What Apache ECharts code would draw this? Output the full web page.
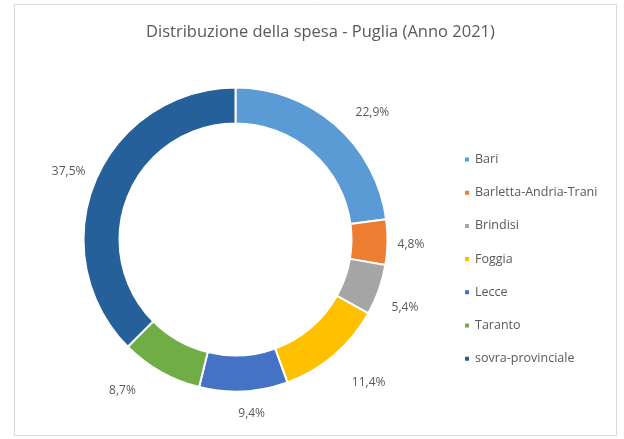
<!DOCTYPE html>
<html>
<head>
<meta charset="utf-8">
<script src="https://cdn.jsdelivr.net/npm/echarts@6/dist/echarts.min.js"></script>
<style>
  html, body { margin: 0; padding: 0; background: #fff; }
  #spesa_chart { width: 624px; height: 439px; }
</style>
</head>
<body>
<div id="spesa_chart"></div>
<script>
const province = ["Bari", "Barletta-Andria-Trani", "Brindisi", "Foggia", "Lecce", "Taranto", "sovra-provinciale"];
const quote = [22.9, 4.8, 5.4, 11.4, 9.4, 8.7, 37.5];
const colori = ["#5B9BD5", "#ED7D31", "#A5A5A5", "#FFC000", "#4472C4", "#70AD47", "#26609A"];

// geometria della ciambella
const CX = 235.5, CY = 239.5, R_EST = 152, R_INT = 116;
const totale = quote.reduce(function (a, b) { return a + b; }, 0);
// piccoli aggiustamenti (px) per imitare il "best fit" di Excel
const scostamenti = [[18, 9], [-3, 2], [0, 9], [16, 6], [7, 3], [-26, -3], [2, 2]];

// etichette centrate fuori dall'anello
function posEtichetta(p) {
  let prima = 0;
  for (let k = 0; k < p.dataIndex; k++) prima += quote[k];
  const ang = (prima + quote[p.dataIndex] / 2) / totale * 2 * Math.PI;
  const ux = Math.sin(ang), uy = -Math.cos(ang);
  const w = p.labelRect.width, h = p.labelRect.height;
  const d = R_EST + 13 + Math.abs(ux) * w / 2 + Math.abs(uy) * h / 2;
  const s = scostamenti[p.dataIndex];
  return { x: CX + ux * d + s[0], y: CY + uy * d + s[1], align: "center", verticalAlign: "middle" };
}

const option = {
  color: colori,
  title: {
    text: "Distribuzione della spesa - Puglia (Anno 2021)",
    left: 141,
    top: 19,
    textStyle: {
      fontFamily: "Open Sans",
      fontWeight: "normal",
      fontSize: 16.5,
      color: "#595959"
    }
  },
  legend: {
    orient: "vertical",
    left: 458,
    top: 148,
    icon: "rect",
    itemWidth: 6,
    itemHeight: 6,
    itemGap: 20.2,
    textStyle: {
      fontFamily: "Open Sans",
      fontSize: 12.5,
      color: "#595959"
    },
    data: province
  },
  graphic: [
    {
      type: "rect",
      shape: { x: 14.5, y: 4.5, width: 602, height: 431 },
      style: { fill: "none", stroke: "#d9d9d9", lineWidth: 1 },
      silent: true
    }
  ],
  series: [
    {
      name: "Spesa",
      type: "pie",
      center: [CX, CY],
      radius: [R_INT, R_EST],
      startAngle: 90,
      clockwise: true,
      avoidLabelOverlap: false,
      itemStyle: {
        borderColor: "#fff",
        borderWidth: 2
      },
      label: {
        show: true,
        position: "outside",
        fontFamily: "Open Sans",
        fontSize: 12,
        color: "#595959",
        formatter: function (p) {
          return p.value.toFixed(1).replace(".", ",") + "%";
        }
      },
      labelLine: { show: false },
      labelLayout: posEtichetta,
      emphasis: { disabled: true },
      data: province.map(function (nome, i) {
        return { name: nome, value: quote[i] };
      })
    }
  ]
};

const chart = echarts.init(document.getElementById("spesa_chart"));
chart.setOption(option);
window.addEventListener("resize", function () {
  chart.resize();
});
</script>
</body>
</html>
